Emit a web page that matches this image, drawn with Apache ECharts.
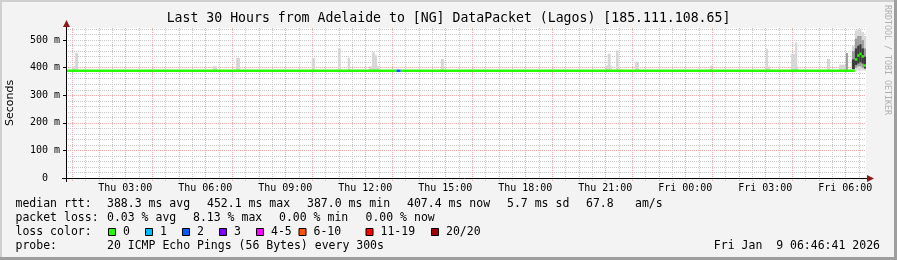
<!DOCTYPE html>
<html><head><meta charset="utf-8">
<style>html,body{margin:0;padding:0;background:#f3f3f3}#c{width:897px;height:260px}</style>
<script src="https://cdn.jsdelivr.net/npm/echarts@6.0.0/dist/echarts.min.js"></script>
</head><body><div id="c"></div><script>
// ---- data (time = hours since Thu 00:00, values in ms) ----
const startHour = 0.7781;   // Thu 00:46:41
const endHour = 30.7781;    // Fri 06:46:41
const xLabelHours = [3, 6, 9, 12, 15, 18, 21, 24, 27, 30];
const yMajorTicks = [0, 100, 200, 300, 400, 500];
const yMax = 544;

// median rtt segments: start time, value, lost pings
const medianStart = [0.7781, 13.17, 13.33, 30.36, 30.45, 30.53, 30.61, 30.70];
const medianValue = [389, 389, 389, 430, 444, 450, 441, 408];
const medianLoss  = [0, 2, 0, 0, 0, 0, 0, 0];

// smoke (ping spread) blocks: [from, to, low ms, high ms]
const smokeLight = [
  [1.00, 1.12, 384, 405], [1.12, 1.23, 384, 453],
  [6.29, 6.44, 384, 405], [7.15, 7.30, 384, 436],
  [9.99, 10.12, 384, 436], [10.98, 11.08, 384, 471], [11.34, 11.43, 384, 436],
  [12.14, 12.52, 384, 405], [12.25, 12.36, 384, 456], [12.36, 12.44, 384, 445],
  [14.84, 14.95, 384, 432],
  [21.03, 21.24, 384, 408], [21.09, 21.20, 384, 451], [21.40, 21.50, 384, 463],
  [22.12, 22.27, 384, 422], [24.93, 25.00, 384, 408],
  [27.02, 27.18, 384, 405], [27.02, 27.10, 384, 469],
  [27.97, 28.23, 384, 405], [27.97, 28.12, 384, 451], [28.12, 28.20, 384, 492],
  [29.31, 29.43, 384, 432], [29.77, 30.07, 384, 411],
  [30.25, 30.36, 390, 480], [30.36, 30.45, 390, 535], [30.45, 30.53, 390, 540],
  [30.53, 30.61, 390, 540], [30.61, 30.70, 390, 530], [30.70, 30.78, 390, 515]
];
const smokeMid = [
  [30.02, 30.10, 392, 453],
  [30.25, 30.36, 395, 460], [30.36, 30.45, 400, 505], [30.45, 30.53, 405, 515],
  [30.53, 30.61, 405, 515], [30.61, 30.70, 400, 500], [30.70, 30.78, 395, 470]
];
const smokeDark = [
  [30.25, 30.36, 395, 430], [30.36, 30.45, 410, 470], [30.45, 30.53, 415, 480],
  [30.53, 30.61, 420, 485], [30.61, 30.70, 415, 470], [30.70, 30.78, 398, 440]
];

const titleText = 'Last 30 Hours from Adelaide to [NG] DataPacket (Lagos) [185.111.108.65]';
const rttStats = ['388.3 ms avg', '452.1 ms max', '387.0 ms min', '407.4 ms now', '5.7 ms sd', '67.8', 'am/s'];
const lossStats = ['0.03 % avg', '8.13 % max', '0.00 % min', '0.00 % now'];
const lossLabels = ['0', '1', '2', '3', '4-5', '6-10', '11-19', '20/20'];
const lossUpper = [0, 1, 2, 3, 5, 10, 19, 20];
const probeText = '20 ICMP Echo Pings (56 Bytes) every 300s';
const dateText = 'Fri Jan  9 06:46:41 2026';

// ---- styles ----
const lossColors = ['#26ff00', '#00b8ff', '#0059ff', '#7e00ff', '#ff00ff', '#ff5500', '#ff0000', '#a10000'];
const MONO = '"DejaVu Sans Mono", monospace';
const RED_GRID = '#f4a8a8', GRAY_GRID = '#c8c8c8';
const LEG = 11.5;

function lossColor(n) {
  for (let i = 0; i < lossUpper.length; i++) if (n <= lossUpper[i]) return lossColors[i];
  return lossColors[lossColors.length - 1];
}

const hourGrid = [], halfGrid = [];
for (let h = Math.ceil(startHour); h <= endHour; h++) hourGrid.push([h]);
for (let h = Math.ceil(startHour - 0.5) + 0.5; h <= endHour; h++) halfGrid.push([h]);

const medianData = medianStart.map((t, i) => [t, i + 1 < medianStart.length ? medianStart[i + 1] : endHour, medianValue[i], medianLoss[i]]);

function vline(color) {
  return function (params, api) {
    const p = api.coord([api.value(0), 0]);
    const x = Math.round(p[0]) + 0.5;
    return { type: 'line', shape: { x1: x, y1: p[1] + 3, x2: x, y2: params.coordSys.y },
      style: { stroke: color, lineWidth: 1, lineDash: [1, 1] } };
  };
}
function smokeRect(color) {
  return function (params, api) {
    const a = api.coord([api.value(0), api.value(3)]);
    const b = api.coord([api.value(1), api.value(2)]);
    return { type: 'rect', shape: { x: a[0], y: a[1], width: b[0] - a[0], height: b[1] - a[1] },
      style: { fill: color } };
  };
}

const chart = echarts.init(document.getElementById('c'), null, { renderer: 'canvas' });

const graphics = [
  { type: 'rect', z: 50, shape: { x: 0, y: 0, width: 897, height: 2 }, style: { fill: '#cfcfcf' } },
  { type: 'rect', z: 50, shape: { x: 0, y: 0, width: 2, height: 260 }, style: { fill: '#cfcfcf' } },
  { type: 'rect', z: 50, shape: { x: 0, y: 257, width: 897, height: 3 }, style: { fill: '#9e9e9e' } },
  { type: 'rect', z: 50, shape: { x: 894, y: 0, width: 3, height: 260 }, style: { fill: '#9e9e9e' } },
  // axis lines and arrows
  { type: 'line', z: 50, shape: { x1: 62, y1: 178.5, x2: 867, y2: 178.5 }, style: { stroke: '#000', lineWidth: 1 } },
  { type: 'line', z: 50, shape: { x1: 66.5, y1: 182, x2: 66.5, y2: 26 }, style: { stroke: '#000', lineWidth: 1 } },
  { type: 'polygon', z: 51, shape: { points: [[63, 27], [70, 27], [66.5, 20]] }, style: { fill: '#8b1a1a' } },
  { type: 'polygon', z: 51, shape: { points: [[867, 175], [867, 182], [874, 178.5]] }, style: { fill: '#8b1a1a' } },
  { type: 'text', z: 50, x: 887, y: 5, rotation: -Math.PI / 2,
    style: { text: 'RRDTOOL / TOBI OETIKER', font: '8.3px ' + MONO, fill: '#b0b0b0', align: 'left', verticalAlign: 'middle' } }
];
function txt(s, x, y) {
  graphics.push({ type: 'text', z: 50, x: x, y: y,
    style: { text: s, font: LEG + 'px ' + MONO, fill: '#000', align: 'left', verticalAlign: 'middle' } });
}
const rttX = [107, 207, 307, 407, 507, 586, 635];
txt('median rtt:', 15.5, 204);
rttStats.forEach((s, i) => txt(s, rttX[i], 204));
const lossX = [107, 193, 279, 365.5];
txt('packet loss:', 15.5, 218);
lossStats.forEach((s, i) => txt(s, lossX[i], 218));
txt('loss color:', 15.5, 232);
const boxX = [108.5, 145.5, 182.5, 219.5, 256.5, 299, 366, 431.5];
lossLabels.forEach((s, i) => {
  graphics.push({ type: 'rect', z: 50, shape: { x: boxX[i], y: 228.5, width: 7, height: 7 },
    style: { fill: lossColors[i], stroke: '#000', lineWidth: 1 } });
  txt(s, boxX[i] + 14.5, 232);
});
txt('probe:', 15.5, 246);
txt(probeText, 107, 246);
graphics.push({ type: 'text', z: 50, x: 880, y: 246,
  style: { text: dateText, font: LEG + 'px ' + MONO, fill: '#000', align: 'right', verticalAlign: 'middle' } });

chart.setOption({
  animation: false,
  backgroundColor: '#f3f3f3',
  title: { text: titleText, left: 'center', top: 12, padding: 0,
    textStyle: { fontFamily: MONO, fontSize: 13.2, fontWeight: 'normal', color: '#000' } },
  grid: { left: 66, top: 28, width: 800, height: 150, show: true, backgroundColor: '#ffffff', borderWidth: 0,
    containLabel: false, outerBoundsMode: 'none' },
  xAxis: {
    type: 'value', min: startHour, max: endHour,
    axisLine: { show: false },
    splitLine: { show: false },
    axisTick: { show: false },
    axisLabel: {
      customValues: xLabelHours, margin: 5,
      fontFamily: MONO, fontSize: 10, color: '#000',
      formatter: v => (v < 24 ? 'Thu ' : 'Fri ') + String(Math.round(v) % 24).padStart(2, '0') + ':00'
    }
  },
  yAxis: [
    { type: 'value', min: 0, max: yMax, interval: 20, position: 'left',
      axisLine: { show: false }, axisTick: { show: false }, axisLabel: { show: false },
      splitLine: { show: true, showMinLine: false, showMaxLine: false, lineStyle: { color: GRAY_GRID, type: [1, 1], width: 1 } } },
    { type: 'value', min: 0, max: yMax, interval: 100, position: 'left', offset: 0,
      name: 'Seconds', nameLocation: 'middle', nameGap: 50,
      nameTextStyle: { fontFamily: '"DejaVu Sans", sans-serif', fontSize: 11, color: '#000' },
      axisLine: { show: false },
      axisTick: { show: true, length: 3, customValues: yMajorTicks, lineStyle: { color: '#000' } },
      axisLabel: { margin: 6, fontFamily: MONO, fontSize: 10, color: '#000',
        formatter: v => (v % 100 !== 0 ? '' : (v === 0 ? '0  ' : v + ' m')) },
      splitLine: { show: true, showMinLine: false, showMaxLine: false, lineStyle: { color: RED_GRID, type: [1, 1], width: 1 } } }
  ],
  series: [
    { type: 'custom', name: 'halfgrid', data: halfGrid, renderItem: vline(GRAY_GRID), silent: true, z: 1, encode: { x: 0 } },
    { type: 'custom', name: 'hourgrid', data: hourGrid, renderItem: vline(RED_GRID), silent: true, z: 1, encode: { x: 0 } },
    { type: 'custom', name: 'smokeLight', data: smokeLight, renderItem: smokeRect('#d6d6d6'), clip: true, z: 3, encode: { x: [0, 1], y: [2, 3] } },
    { type: 'custom', name: 'smokeMid', data: smokeMid, renderItem: smokeRect('#9a9a9a'), clip: true, z: 3, encode: { x: [0, 1], y: [2, 3] } },
    { type: 'custom', name: 'smokeDark', data: smokeDark, renderItem: smokeRect('#3a3a3a'), clip: true, z: 3, encode: { x: [0, 1], y: [2, 3] } },
    { type: 'custom', name: 'median', data: medianData, clip: true, z: 4, encode: { x: [0, 1], y: 2 },
      renderItem: function (params, api) {
        const a = api.coord([api.value(0), api.value(2)]);
        const b = api.coord([api.value(1), api.value(2)]);
        return { type: 'rect', shape: { x: a[0], y: a[1] - 1.25, width: b[0] - a[0], height: 2.5 },
          style: { fill: lossColor(api.value(3)) } };
      } }
  ],
  graphic: graphics
});
</script></body></html>
